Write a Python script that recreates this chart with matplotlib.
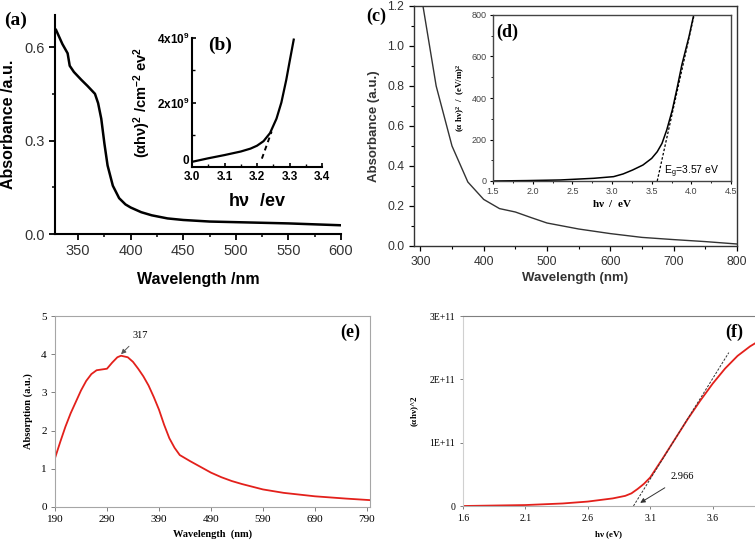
import numpy as np
import matplotlib
matplotlib.use('Agg')
import matplotlib.pyplot as plt
from matplotlib.ticker import MultipleLocator

plt.rcParams['mathtext.default'] = 'regular'

SANS = 'Liberation Sans'
SERIF = 'Liberation Serif'

# (a) absorbance spectrum
wl_a = [329, 335, 340, 342, 346, 353, 359, 366, 369, 372, 375, 378, 383, 389,
        395, 400, 410, 420, 435, 450, 475, 500, 550, 600]
abs_a = [0.655, 0.61, 0.58, 0.54, 0.52, 0.495, 0.475, 0.45, 0.42, 0.37, 0.29,
         0.22, 0.155, 0.115, 0.095, 0.085, 0.07, 0.06, 0.05, 0.045, 0.04,
         0.038, 0.034, 0.028]

# (b) Tauc plot inset
hv_b = [3.0, 3.05, 3.1, 3.15, 3.18, 3.2, 3.22, 3.24, 3.26, 3.275, 3.29, 3.30, 3.313]
tauc_b = [0.16e9, 0.27e9, 0.37e9, 0.48e9, 0.57e9, 0.66e9, 0.8e9, 1.05e9,
          1.5e9, 2.0e9, 2.7e9, 3.25e9, 3.95e9]
fit_b = [3.215, 3.245]

# (c) absorbance spectrum
wl_c = [300, 325, 350, 375, 400, 425, 450, 475, 500, 550, 600, 650, 700, 750, 800]
abs_c = [1.28, 0.80, 0.50, 0.32, 0.233, 0.187, 0.17, 0.142, 0.115, 0.085,
         0.062, 0.043, 0.032, 0.022, 0.01]

# (d) Tauc plot inset
hv_d = [1.5, 1.93, 2.35, 2.77, 3.02, 3.14, 3.26, 3.39, 3.5, 3.57, 3.63, 3.69,
        3.76, 3.82, 3.88, 3.97, 4.03]
tauc_d = [0, 2, 5, 13, 21, 34, 53, 77, 109, 141, 181, 246, 342, 447, 559, 695, 800]
fit_d = [3.57, 4.03]
slope_d = 1720

# (e) absorption spectrum
wl_e = [190, 200, 210, 220, 230, 240, 250, 260, 270, 280, 290, 300, 310, 317,
        330, 340, 350, 360, 370, 380, 390, 400, 410, 420, 430, 440, 450, 470,
        490, 510, 530, 550, 590, 630, 690, 750, 796]
abs_e = [1.28, 1.7, 2.1, 2.45, 2.75, 3.05, 3.3, 3.48, 3.58, 3.6, 3.62, 3.78,
         3.92, 3.96, 3.92, 3.8, 3.62, 3.42, 3.18, 2.88, 2.55, 2.15, 1.8, 1.55,
         1.36, 1.28, 1.2, 1.05, 0.9, 0.78, 0.68, 0.6, 0.46, 0.37, 0.28, 0.22, 0.18]

# (f) Tauc plot
hv_f = [1.6, 2.1, 2.4, 2.6, 2.8, 2.9, 2.95, 3.0, 3.05, 3.1, 3.2, 3.3, 3.4,
        3.5, 3.6, 3.7, 3.8, 3.9, 3.95]
tauc_f = [0, 0.015e11, 0.04e11, 0.07e11, 0.12e11, 0.16e11, 0.2e11, 0.27e11,
          0.35e11, 0.45e11, 0.75e11, 1.06e11, 1.37e11, 1.66e11, 1.93e11,
          2.17e11, 2.37e11, 2.52e11, 2.58e11]
fit_f = [2.966, 3.73]
slope_f = 3.17e11

W, H = 755, 544
fig = plt.figure(figsize=(W / 100, H / 100), dpi=100)


def box(l, t, r, b):
    return [l / W, 1 - b / H, (r - l) / W, (b - t) / H]


def label(x, y, s, size):
    fig.text(x / W, 1 - y / H, s, fontsize=size, fontweight='bold',
             family=SERIF, ha='center', va='center')


# ---- (a) ----
ax = fig.add_axes(box(55, 15, 341, 234))
ax.plot(wl_a, abs_a, 'k', lw=1.8)
ax.set_xlim(328, 600)
ax.set_ylim(0, 0.703)
ax.set_xticks([350, 400, 450, 500, 550, 600])
ax.set_yticks([0.0, 0.3, 0.6])
ax.xaxis.set_minor_locator(MultipleLocator(25))
ax.yaxis.set_minor_locator(MultipleLocator(0.15))
for s in ['top', 'right']:
    ax.spines[s].set_visible(False)
for s in ['left', 'bottom']:
    ax.spines[s].set_linewidth(1.5)
ax.tick_params(width=1.3, length=4, labelsize=10.5, labelcolor='#333333')
ax.tick_params(which='minor', width=1.1, length=2.5)
for t in ax.get_xticklabels() + ax.get_yticklabels():
    t.set_family(SANS)
ax.set_xlabel('Wavelength /nm', fontsize=11.5, fontweight='bold', family=SANS, labelpad=10)
ax.set_ylabel('Absorbance /a.u.', fontsize=11.5, fontweight='bold', family=SANS, labelpad=6)
label(16, 20, '(a)', 14)

# ---- (b) ----
ax = fig.add_axes(box(192, 38, 322, 167))
ax.plot(hv_b, tauc_b, 'k', lw=1.6)
ax.plot(fit_b, [0.26e9, 1.1e9], 'k--', lw=1.4, dashes=(2.5, 2))
ax.set_xlim(3.0, 3.4)
ax.set_ylim(0, 4e9)
ax.set_xticks([3.0, 3.1, 3.2, 3.3, 3.4])
ax.set_xticklabels(['3.0', '3.1', '3.2', '3.3', '3.4'])
ax.set_yticks([0, 2e9, 4e9])
ax.set_yticklabels(['0', '2x10$^9$', '4x10$^9$'])
ax.yaxis.set_minor_locator(MultipleLocator(1e9))
ax.xaxis.set_minor_locator(MultipleLocator(0.05))
for s in ['top', 'right']:
    ax.spines[s].set_visible(False)
for s in ['left', 'bottom']:
    ax.spines[s].set_linewidth(1.5)
ax.patch.set_alpha(0)
ax.tick_params(direction='in', width=1.2, length=3, labelsize=8.5)
ax.tick_params(axis='x', pad=3)
ax.tick_params(axis='y', pad=2)
ax.tick_params(which='minor', direction='in', width=1, length=2)
for t in ax.get_xticklabels() + ax.get_yticklabels():
    t.set_family(SANS)
    t.set_fontweight('bold')
ax.get_yticklabels()[0].set_va('bottom')
ax.set_xlabel(r'h$\nu$  /ev', fontsize=13, fontweight='bold', family=SANS, labelpad=7)
ax.set_ylabel(r'$(\alpha h\nu)^2$ /cm$^{-2}$ ev$^2$', fontsize=10.5,
              fontweight='bold', family=SANS, labelpad=3)
label(220, 45, '(b)', 14)

# ---- (c) ----
ax = fig.add_axes(box(414, 6, 737, 246))
ax.plot(wl_c, abs_c, color='#333333', lw=1.0)
ax.set_xlim(290, 800)
ax.set_ylim(0, 1.2)
ax.set_xticks(range(300, 801, 100))
ax.set_yticks(np.arange(0, 1.21, 0.2))
ax.set_yticklabels(['0.0', '0.2', '0.4', '0.6', '0.8', '1.0', '1.2'])
ax.xaxis.set_minor_locator(MultipleLocator(50))
ax.yaxis.set_minor_locator(MultipleLocator(0.1))
for s in ax.spines.values():
    s.set_linewidth(1.0)
    s.set_color('#333333')
ax.tick_params(length=3.5, width=0.9, labelsize=8.7, labelcolor='#333333')
ax.tick_params(which='minor', length=2, width=0.8)
for t in ax.get_xticklabels() + ax.get_yticklabels():
    t.set_family(SANS)
ax.set_xlabel('Wavelength (nm)', fontsize=9.5, fontweight='bold', family=SANS,
              color='#333333', labelpad=3)
ax.set_ylabel('Absorbance (a.u.)', fontsize=9.5, fontweight='bold', family=SANS,
              color='#333333', labelpad=5)
label(376, 16, '(c)', 13)

# ---- (d) ----
ax = fig.add_axes(box(493, 15, 731, 181))
ax.plot(hv_d, tauc_d, 'k', lw=1.1)
xd = np.array(fit_d)
ax.plot(xd, slope_d * (xd - fit_d[0]), 'k--', lw=0.9, dashes=(2, 1.5))
ax.set_xlim(1.5, 4.5)
ax.set_ylim(0, 800)
ax.set_xticks(np.arange(1.5, 4.51, 0.5))
ax.set_yticks(range(0, 801, 200))
ax.xaxis.set_minor_locator(MultipleLocator(0.25))
ax.yaxis.set_minor_locator(MultipleLocator(100))
for s in ax.spines.values():
    s.set_linewidth(1.0)
    s.set_color('#444444')
ax.tick_params(length=2.5, width=0.8, labelsize=6.5, labelcolor='#444444', pad=2)
ax.tick_params(which='minor', length=1.5, width=0.6)
for t in ax.get_xticklabels() + ax.get_yticklabels():
    t.set_family(SANS)
ax.text(3.66, 42, 'E$_g$=3.57 eV', fontsize=7.5, family=SANS, va='center')
ax.set_xlabel(r'h$\nu$  /  eV', fontsize=8, fontweight='bold', family=SERIF, labelpad=1)
ax.set_ylabel(r'($\alpha$ h$\nu$)$^2$  /  (eV/m)$^2$', fontsize=6.5,
              fontweight='bold', family=SERIF, labelpad=3)
label(507, 32, '(d)', 13)

# ---- (e) ----
red = '#e3201b'
ax = fig.add_axes(box(55, 316, 370, 507))
ax.plot(wl_e, abs_e, color=red, lw=1.3)
ax.set_xlim(190, 796)
ax.set_ylim(0, 5)
ax.set_xticks(range(190, 791, 100))
ax.set_yticks(range(0, 6))
for s in ax.spines.values():
    s.set_linewidth(0.8)
    s.set_color('#a6a6a6')
ax.tick_params(length=3, width=0.7, color='#808080', labelsize=8, pad=3)
for t in ax.get_xticklabels() + ax.get_yticklabels():
    t.set_family(SERIF)
ax.annotate('317', xy=(317, 4.0), xytext=(354, 4.5), fontsize=7.5, family=SERIF,
            ha='center', va='center',
            arrowprops=dict(arrowstyle='-|>', color='#555555', lw=0.7,
                            mutation_scale=7, shrinkA=4, shrinkB=0))
ax.set_xlabel('Wavelength  (nm)', fontsize=7.5, fontweight='bold', family=SERIF, labelpad=4)
ax.set_ylabel('Absorption (a.u.)', fontsize=7.5, fontweight='bold', family=SERIF, labelpad=6)
label(350, 332, '(e)', 13)

# ---- (f) ----
ax = fig.add_axes(box(463, 316, 755, 506))
ax.plot(hv_f, tauc_f, color=red, lw=1.3)
xf = np.array(fit_f)
ax.plot(xf, slope_f * (xf - fit_f[0]), color='#333333', ls='--', lw=0.7, dashes=(2.5, 1.5))
ax.set_xlim(1.6, 3.94)
ax.set_ylim(0, 3e11)
ax.set_xticks([1.6, 2.1, 2.6, 3.1, 3.6])
ax.set_yticks([0, 1e11, 2e11, 3e11])
ax.set_yticklabels(['0', '1E+11', '2E+11', '3E+11'])
ax.spines['right'].set_visible(False)
ax.spines['top'].set_color('#7f7f7f')
ax.spines['left'].set_color('#d0d0d0')
ax.spines['bottom'].set_color('#b0b0b0')
for s in ax.spines.values():
    s.set_linewidth(0.8)
ax.tick_params(length=2.5, width=0.7, color='#808080', labelsize=7, pad=3)
for t in ax.get_xticklabels() + ax.get_yticklabels():
    t.set_family(SERIF)
ax.annotate('2.966', xy=(3.02, 0.05e11), xytext=(3.36, 0.46e11), fontsize=7.5,
            family=SERIF, ha='center', va='center',
            arrowprops=dict(arrowstyle='-|>', color='#333333', lw=0.7,
                            mutation_scale=7, shrinkA=5, shrinkB=0))
ax.set_xlabel(r'h$\nu$ (eV)', fontsize=6.5, fontweight='bold', family=SERIF, labelpad=5)
ax.set_ylabel(r'($\alpha$h$\nu$)^2', fontsize=6.5, fontweight='bold', family=SERIF, labelpad=6)
label(734, 332, '(f)', 13)

fig.savefig('out.png', dpi=100)
